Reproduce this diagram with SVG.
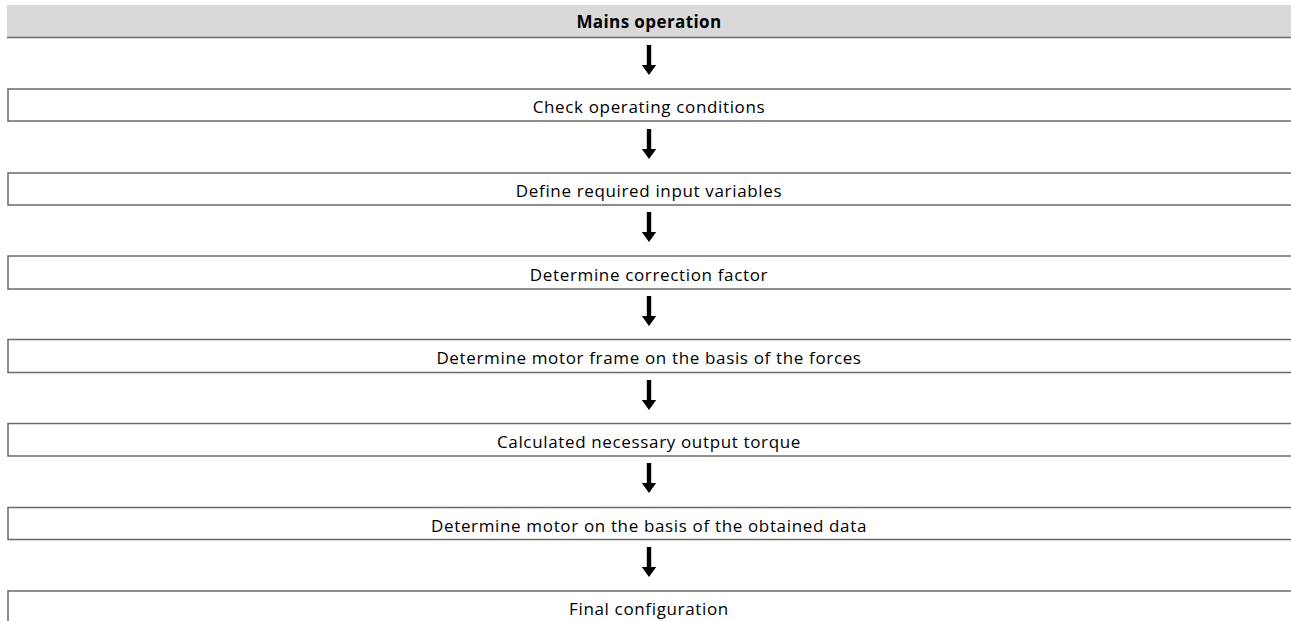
<svg xmlns="http://www.w3.org/2000/svg" width="1291" height="621" viewBox="0 0 1291 621">
<style>
.box{fill:#fff;stroke:#6a6a6a;stroke-width:1.5}
.hdr{fill:#d9d9d9}
.hline{stroke:#6a6a6a;stroke-width:1.5}
.t{font-family:"Open Sans","Liberation Sans",sans-serif;font-size:17px;letter-spacing:0.65px;fill:#000;text-anchor:middle}
.b{font-weight:bold;letter-spacing:0.4px}
.arr{fill:#000}
</style>
<defs>
<path id="arrow" d="M-2.2,0 H2.2 V20 H7.2 L0,30 L-7.2,20 H-2.2 Z"/>
</defs>
<rect width="1291" height="621" fill="#fff"/>
<g id="header">
<rect class="hdr" x="7" y="5" width="1290" height="32"/>
<line class="hline" x1="7" y1="37.5" x2="1291" y2="37.5"/>
<text class="t b" x="649" y="27.5">Mains operation</text>
</g>
<g id="n1"><rect class="box" x="8" y="89" width="1290" height="32"/><text class="t" x="649" y="113">Check operating conditions</text></g>
<g id="n2"><rect class="box" x="8" y="173" width="1290" height="32"/><text class="t" x="649" y="197">Define required input variables</text></g>
<g id="n3"><rect class="box" x="8" y="256" width="1290" height="33"/><text class="t" x="649" y="280.5">Determine correction factor</text></g>
<g id="n4"><rect class="box" x="8" y="339.5" width="1290" height="33"/><text class="t" x="649" y="364">Determine motor frame on the basis of the forces</text></g>
<g id="n5"><rect class="box" x="8" y="423.5" width="1290" height="32.5"/><text class="t" x="649" y="448">Calculated necessary output torque</text></g>
<g id="n6"><rect class="box" x="8" y="507.5" width="1290" height="32"/><text class="t" x="649" y="531.5">Determine motor on the basis of the obtained data</text></g>
<g id="n7"><rect class="box" x="8" y="591" width="1290" height="40"/><text class="t" x="649" y="615">Final configuration</text></g>
<g id="connectors" class="arr">
<use href="#arrow" x="649" y="45"/>
<use href="#arrow" x="649" y="129"/>
<use href="#arrow" x="649" y="212"/>
<use href="#arrow" x="649" y="296"/>
<use href="#arrow" x="649" y="380"/>
<use href="#arrow" x="649" y="463"/>
<use href="#arrow" x="649" y="547"/>
</g>
</svg>
